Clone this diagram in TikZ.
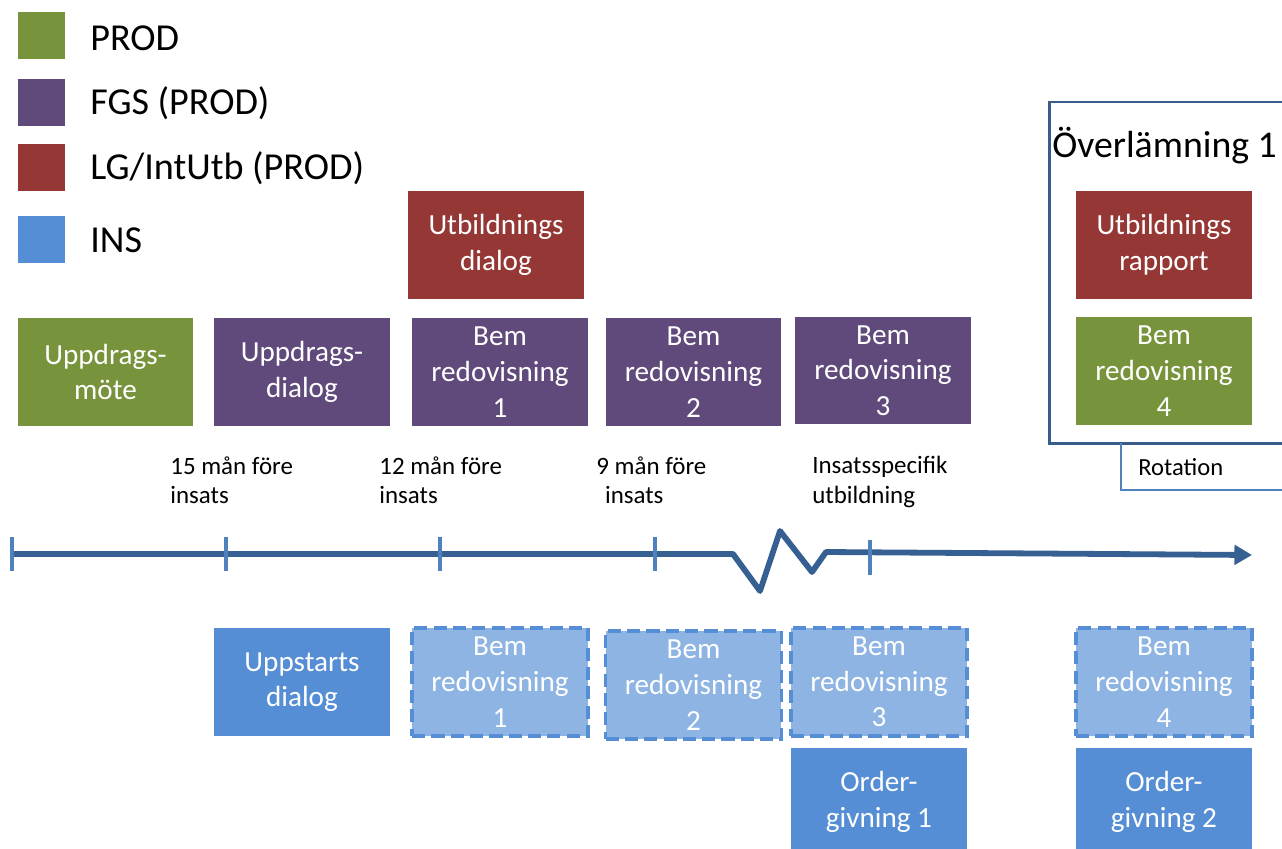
\documentclass[tikz,border=0pt]{standalone}
\usepackage{fontspec}
\setmainfont{Carlito}
\usetikzlibrary{arrows.meta}
\definecolor{cgreen}{HTML}{77933C}
\definecolor{cpurple}{HTML}{604A7B}
\definecolor{cred}{HTML}{953735}
\definecolor{cblue}{HTML}{558ED5}
\definecolor{clight}{HTML}{8EB4E3}
\definecolor{cline}{HTML}{376092}
\definecolor{ctick}{HTML}{4F81BD}
\definecolor{cframe}{HTML}{385D8A}
\tikzset{
  box/.style={rectangle, inner sep=0pt, minimum width=3.52cm, minimum height=2.16cm,
    text=white, align=center, font={\fontsize{16.6}{20.3}\selectfont}},
  gbox/.style={box, fill=cgreen},
  pbox/.style={box, fill=cpurple},
  rbox/.style={box, fill=cred},
  ibox/.style={box, fill=cblue},
  dbox/.style={box, fill=clight, draw=cblue, line width=1.8pt, dash pattern=on 7.5pt off 3.5pt},
  legsq/.style={rectangle, inner sep=0pt, minimum width=0.94cm, minimum height=0.94cm},
  legtx/.style={anchor=west, inner sep=0pt, font={\fontsize{21.7}{26}\selectfont}},
  smalltx/.style={anchor=north west, inner sep=0pt, align=left, font={\fontsize{14.2}{17}\selectfont}},
  tickmark/.style={draw=ctick, line width=2.6pt},
}
\begin{document}
\begin{tikzpicture}[x=0.02cm,y=-0.02cm]
\useasboundingbox (0,0) rectangle (1282,849);
\clip (0,0) rectangle (1282,849);

% legend
\node[legsq, fill=cgreen] (l1) at (41.5,35.5) {};
\node[legsq, fill=cpurple] (l2) at (41.5,102.5) {};
\node[legsq, fill=cred] (l3) at (41.5,167) {};
\node[legsq, fill=cblue] (l4) at (41.5,239.5) {};
\node[legtx] (lt1) at (90,38) {PROD};
\node[legtx] (lt2) at (90,103) {FGS (PROD)};
\node[legtx] (lt3) at (90,168) {LG/IntUtb (PROD)};
\node[legtx] (lt4) at (90,240) {INS};

% upper boxes
\node[gbox] (a1) at (105.5,372) {Uppdrags-\\möte};
\node[pbox] (a2) at (302,372) {Uppdrags-\\dialog};
\node[rbox] (u1) at (496,245) {Utbildnings\\dialog};
\node[pbox] (b1) at (500,372) {Bem\\redovisning\\1};
\node[pbox] (b2) at (693.5,372) {Bem\\redovisning\\2};
\node[pbox] (b3) at (883,370.5) {Bem\\redovisning\\3};

% Overlamning frame
\draw[cframe, line width=1.7pt] (1049,102) rectangle (1300,443);
\node[anchor=west, inner sep=0pt, font={\fontsize{21.5}{26}\selectfont}] (ov) at (1052,146) {Överlämning 1};
\node[rbox] (u2) at (1164,245) {Utbildnings\\rapport};
\node[gbox] (b4) at (1164,371) {Bem\\redovisning\\4};
\coordinate (r0) at (1121,443);
\coordinate (r1) at (1121,490);
\coordinate (r2) at (1290,490);
\draw[ctick, line width=0.9pt] (r0) -- (r1) -- (r2);
\node[anchor=west, inner sep=0pt, font={\fontsize{14}{17}\selectfont}] (rot) at (1138,467) {Rotation};

% time labels
\node[smalltx] (t1) at (170,456) {15 mån före\\insats};
\node[smalltx] (t2) at (379,456) {12 mån före\\insats};
\node[smalltx] (t3) at (596,456) {9 mån före\\\hspace*{0.35em}insats};
\node[smalltx] (t4) at (812,456) {Insatsspecifik\\utbildning};

% timeline
\coordinate (s0) at (12,554);
\coordinate (z0) at (733,554);
\coordinate (z1) at (760,591);
\coordinate (z2) at (780,531);
\coordinate (z3) at (812,572);
\coordinate (z4) at (826,552);
\coordinate (e0) at (1252,555);
\draw[cline, line width=3.3pt, line join=round, -{Triangle[length=10pt,width=11pt]}]
  (s0) -- (z0) -- (z1) -- (z2) -- (z3) -- (z4) -- (e0);
\foreach \x in {12,226,440,655}{
  \draw[tickmark] (\x,537) -- (\x,571);
}
\draw[tickmark] (870,540) -- (870,575);

% lower boxes
\node[ibox] (i1) at (302,682) {Uppstarts\\dialog};
\node[dbox] (d1) at (500,682) {Bem\\redovisning\\1};
\node[dbox] (d2) at (693.5,685) {Bem\\redovisning\\2};
\node[dbox] (d3) at (879,682) {Bem\\redovisning\\3};
\node[dbox] (d4) at (1164,682) {Bem\\redovisning\\4};
\node[ibox] (o1) at (879,802) {Order-\\givning 1};
\node[ibox] (o2) at (1164,802) {Order-\\givning 2};
\end{tikzpicture}
\end{document}
